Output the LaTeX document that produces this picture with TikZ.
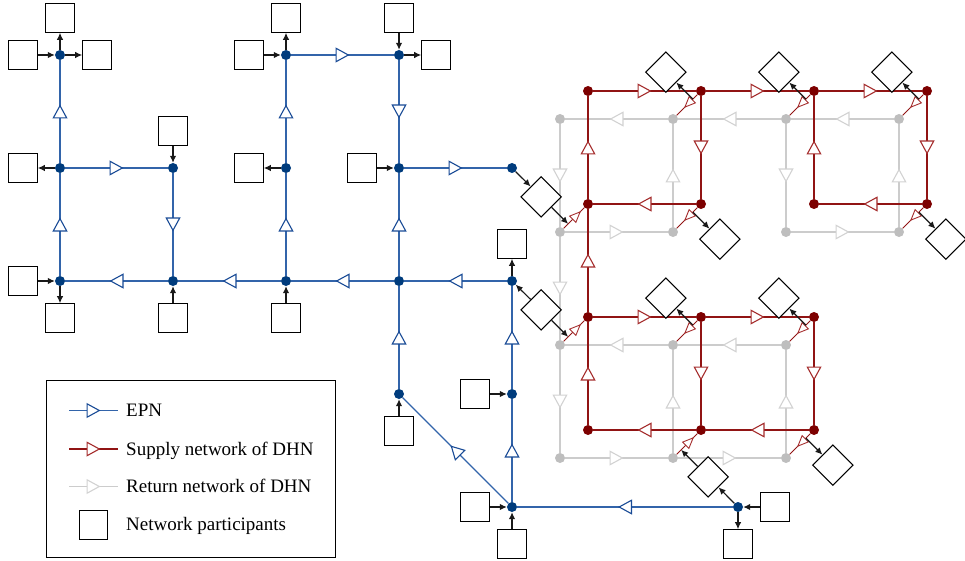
\documentclass[tikz,border=0pt]{standalone}
\usepackage{fontspec}
\setmainfont{Liberation Serif}
\usetikzlibrary{arrows.meta,decorations.markings,calc}

\definecolor{epnline}{RGB}{50,100,170}
\definecolor{epntri}{RGB}{25,75,150}
\definecolor{epndot}{RGB}{0,60,125}
\definecolor{supline}{RGB}{145,20,20}
\definecolor{suptri}{RGB}{165,45,45}
\definecolor{supdot}{RGB}{125,0,0}
\definecolor{retline}{RGB}{204,204,204}
\definecolor{rettri}{RGB}{210,210,210}
\definecolor{retdot}{RGB}{190,190,190}
\definecolor{linkcol}{RGB}{25,25,25}

\tikzset{
  midtip/.style n args={3}{postaction={decorate},
    decoration={markings,mark=at position #1 with {\arrow[xshift=#2]{#3}}}},
  epn/.style={draw=epnline,line width=1.3pt,
    midtip={0.5}{7pt}{Triangle[length=14pt,width=15pt,line width=1.1pt,color=epntri,fill=white]}},
  sup/.style={draw=supline,line width=1.3pt,
    midtip={0.5}{7pt}{Triangle[length=14pt,width=15pt,line width=1.1pt,color=suptri,fill=white]}},
  ret/.style={draw=retline,line width=1.3pt,
    midtip={0.5}{7pt}{Triangle[length=14pt,width=15pt,line width=1.1pt,color=rettri,fill=white]}},
  heat/.style={draw=supline,line width=0.9pt,
    midtip={#1}{6pt}{Triangle[length=12pt,width=10pt,line width=0.9pt,color=suptri,fill=white]}},
  edot/.style={circle,fill=epndot,inner sep=0pt,minimum size=10pt},
  sdot/.style={circle,fill=supdot,inner sep=0pt,minimum size=10pt},
  rdot/.style={circle,fill=retdot,inner sep=0pt,minimum size=10pt},
  part/.style={draw=black,line width=1.1pt,fill=white,minimum size=28.5pt,inner sep=0pt},
  partd/.style={part,rotate=45},
  link/.style={draw=linkcol,line width=1.2pt,-{Latex[length=7pt,width=6.5pt]}},
  legtext/.style={anchor=base west,inner sep=0pt}
}

\begin{document}
\begin{tikzpicture}[x=1pt,y=-1pt,font=\fontsize{19}{22}\selectfont]
\useasboundingbox (0,0) rectangle (965,561);

% ---------- electric power network buses ----------
\foreach \n/\x/\y in {e11/60/55,e12/60/168,e13/60/281,
                      e21/173/168,e22/173/281,
                      e31/286/55,e32/286/168,e33/286/281,
                      e41/399/55,e42/399/168,e43/399/281,e44/399/394,
                      e51/512/168,e52/512/281,e53/512/394,e54/512/507,
                      e6/738/507}
  \node[edot] (\n) at (\x,\y) {};

% ---------- district heating nodes (supply and return) ----------
\foreach \n/\x/\y in {11/588/91,12/701/91,13/814/91,14/927/91,
                      21/588/204,22/701/204,23/814/204,24/927/204,
                      31/588/317,32/701/317,33/814/317,
                      41/588/430,42/701/430,43/814/430}{
  \node[rdot] (g\n) at (\x-28,\y+28) {};
  \node[sdot] (r\n) at (\x,\y) {};
}

% ---------- return network ----------
\foreach \a/\b in {g12/g11,g13/g12,g14/g13,g11/g21,g22/g12,g21/g22,
                   g13/g23,g24/g14,g23/g24,g21/g31,g32/g31,g33/g32,
                   g31/g41,g42/g32,g41/g42,g43/g33,g42/g43}
  \draw[ret] (\a) -- (\b);

% ---------- supply network ----------
\foreach \a/\b in {r11/r12,r12/r13,r13/r14,r21/r11,r12/r22,r22/r21,
                   r23/r13,r14/r24,r24/r23,r31/r21,r31/r32,r32/r33,
                   r41/r31,r32/r42,r42/r41,r33/r43,r43/r42}
  \draw[sup] (\a) -- (\b);

% ---------- electric power network lines ----------
\foreach \a/\b in {e12/e11,e13/e12,e12/e21,e21/e22,e22/e13,e33/e22,
                   e32/e31,e33/e32,e31/e41,e41/e42,e42/e51,e43/e42,
                   e43/e33,e52/e43,e44/e43,e53/e52,e54/e53,e54/e44,e6/e54}
  \draw[epn] (\a) -- (\b);

% ---------- heat exchange between return and supply ----------
% producers feed from return into supply
\foreach \k in {21,31,42}
  \draw[heat=0.63] (g\k) -- (r\k);
% consumers take from supply into return
\foreach \k in {12,13,14,22,24,32,33,43}
  \draw[heat=0.435] (r\k) -- (g\k);

% tapping points on the exchange lines
\coordinate (p1)  at ($(g21)!0.29!(r21)$);
\coordinate (p2)  at ($(g31)!0.29!(r31)$);
\coordinate (p10) at ($(g42)!0.29!(r42)$);
\coordinate (p3)  at ($(g12)!0.71!(r12)$);
\coordinate (p4)  at ($(g13)!0.71!(r13)$);
\coordinate (p5)  at ($(g14)!0.71!(r14)$);
\coordinate (p6)  at ($(g22)!0.71!(r22)$);
\coordinate (p7)  at ($(g24)!0.71!(r24)$);
\coordinate (p8)  at ($(g32)!0.71!(r32)$);
\coordinate (p9)  at ($(g33)!0.71!(r33)$);
\coordinate (p11) at ($(g43)!0.71!(r43)$);

% ---------- coupled participants (diamonds) ----------
\node[partd] (d1)  at ($(p1)+(-27,-27)$) {};
\node[partd] (d2)  at ($(p2)+(-27,-27)$) {};
\node[partd] (d3)  at ($(p3)+(-27,-27)$) {};
\node[partd] (d4)  at ($(p4)+(-27,-27)$) {};
\node[partd] (d5)  at ($(p5)+(-27,-27)$) {};
\node[partd] (d6)  at ($(p6)+(27,27)$) {};
\node[partd] (d7)  at ($(p7)+(27,27)$) {};
\node[partd] (d8)  at ($(p8)+(-27,-27)$) {};
\node[partd] (d9)  at ($(p9)+(-27,-27)$) {};
\node[partd] (d10) at ($(p10)+(27,27)$) {};
\node[partd] (d11) at ($(p11)+(27,27)$) {};

\draw[link] (e51) -- (d1);
\draw[link] (d1) -- (p1);
\draw[link] (d2) -- (e52);
\draw[link] (d2) -- (p2);
\draw[link] (e6) -- (d10);
\draw[link] (d10) -- (p10);
\foreach \k in {3,4,5,6,7,8,9,11}
  \draw[link] (p\k) -- (d\k);

% ---------- electric participants (squares) ----------
\foreach \n/\x/\y in {s1/60/18,s2/23/55,s3/97/55,s4/23/168,s5/23/281,s6/60/318,
                      s7/173/131,s8/173/318,s9/286/18,s10/249/55,s11/249/168,
                      s12/286/318,s13/399/18,s14/436/55,s15/362/168,s16/399/431,
                      s17/512/244,s18/475/394,s19/475/507,s20/512/544,
                      s21/775/507,s22/738/544}
  \node[part] (\n) at (\x,\y) {};

% bus feeds a participant
\foreach \a/\b in {e11/s1,e11/s3,e12/s4,e13/s6,e31/s9,e32/s11,e41/s14,e52/s17,e6/s22}
  \draw[link] (\a) -- (\b);
% participant feeds a bus
\foreach \a/\b in {s2/e11,s5/e13,s7/e21,s8/e22,s10/e31,s12/e33,s13/e41,s15/e42,
                   s16/e44,s18/e53,s19/e54,s20/e54,s21/e6}
  \draw[link] (\a) -- (\b);

% ---------- legend ----------
\draw[line width=1pt] (46,380) rectangle (335,557);
\coordinate (la1) at (69,410.5);  \coordinate (lb1) at (118,410.5);
\coordinate (la2) at (69,449);    \coordinate (lb2) at (118,449);
\coordinate (la3) at (69,486.5);  \coordinate (lb3) at (118,486.5);
\draw[epn] (la1) -- (lb1);
\draw[sup] (la2) -- (lb2);
\draw[ret] (la3) -- (lb3);
\node[part] (lsq) at (93.5,525) {};
\node[legtext] (t1) at (126,416.5) {EPN};
\node[legtext] (t2) at (126,455) {Supply network of DHN};
\node[legtext] (t3) at (126,492.5) {Return network of DHN};
\node[legtext] (t4) at (126,530.5) {Network participants};
\end{tikzpicture}
\end{document}
